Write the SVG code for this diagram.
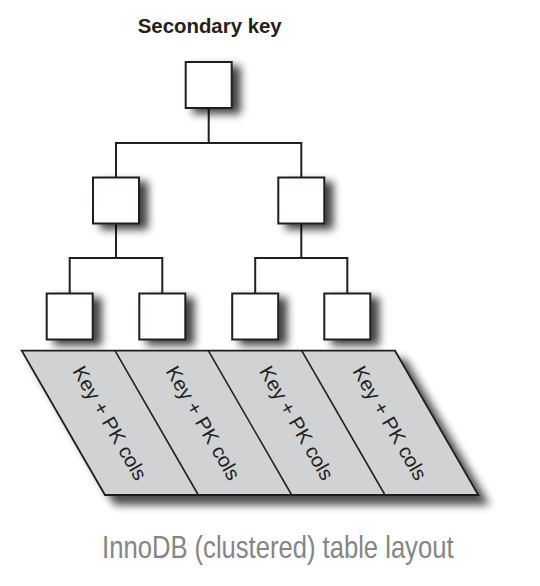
<svg xmlns="http://www.w3.org/2000/svg" width="540" height="586" viewBox="0 0 540 586">
  <defs>
    <filter id="shadow" x="-30%" y="-30%" width="180%" height="180%">
      <feGaussianBlur in="SourceAlpha" stdDeviation="4"/>
      <feOffset dx="8" dy="5" result="b"/>
      <feComponentTransfer><feFuncA type="linear" slope="0.75"/></feComponentTransfer>
      <feMerge><feMergeNode/><feMergeNode in="SourceGraphic"/></feMerge>
    </filter>
    <filter id="shadow2" x="-10%" y="-10%" width="130%" height="140%">
      <feGaussianBlur in="SourceAlpha" stdDeviation="4.5"/>
      <feOffset dx="10" dy="9" result="b"/>
      <feComponentTransfer><feFuncA type="linear" slope="0.7"/></feComponentTransfer>
      <feMerge><feMergeNode/><feMergeNode in="SourceGraphic"/></feMerge>
    </filter>
  </defs>
  <style>
    .box { fill: #ffffff; stroke: #231f20; stroke-width: 2; filter: url(#shadow); }
    .conn { fill: none; stroke: #231f20; stroke-width: 2; }
    .cell { fill: #d1d2d4; stroke: #231f20; stroke-width: 1.8; stroke-linejoin: miter; }
    .div { stroke: #231f20; stroke-width: 1.6; }
    .title { font-family: "Liberation Sans", Arial, sans-serif; font-weight: bold; font-size: 21px; fill: #231f20; }
    .lbl { font-family: "Liberation Sans", Arial, sans-serif; font-size: 20px; fill: #231f20; }
    .cap { font-family: "Liberation Sans", Arial, sans-serif; font-size: 32px; fill: #858585; }
  </style>

  <text class="title" x="209.7" y="32.7" text-anchor="middle" textLength="144" lengthAdjust="spacingAndGlyphs">Secondary key</text>

  <g id="connectors">
    <path class="conn" d="M208.7 108 V143 M116 143 H301.3 M116 142 V177.5 M301.3 142 V177.5"/>
    <path class="conn" d="M116 223.5 V258 M69.7 258 H162.3 M69.7 257 V293.5 M162.3 257 V293.5"/>
    <path class="conn" d="M301.3 223.5 V258 M255.2 258 H347.3 M255.2 257 V293.5 M347.3 257 V293.5"/>
  </g>

  <g id="root"><rect class="box" x="185.7" y="62" width="46" height="46"/></g>
  <g id="inner-left"><rect class="box" x="93" y="177.5" width="46" height="46"/></g>
  <g id="inner-right"><rect class="box" x="278.3" y="177.5" width="46" height="46"/></g>
  <g id="leaf-1"><rect class="box" x="46.7" y="293.5" width="46" height="46"/></g>
  <g id="leaf-2"><rect class="box" x="139.3" y="293.5" width="46" height="46"/></g>
  <g id="leaf-3"><rect class="box" x="232.2" y="293.5" width="46" height="46"/></g>
  <g id="leaf-4"><rect class="box" x="324.3" y="293.5" width="46" height="46"/></g>

  <g id="table">
    <polygon class="cell" style="filter:url(#shadow2)" points="21.7,350.7 395,350.7 478.3,495 105,495"/>
    <line class="div" x1="115" y1="350.7" x2="198.3" y2="495"/>
    <line class="div" x1="208.3" y1="350.7" x2="291.7" y2="495"/>
    <line class="div" x1="301.7" y1="350.7" x2="385" y2="495"/>
  </g>

  <g id="row-1"><text class="lbl" transform="translate(110,423) rotate(60)" x="0" y="7" text-anchor="middle" textLength="128" lengthAdjust="spacingAndGlyphs">Key + PK cols</text></g>
  <g id="row-2"><text class="lbl" transform="translate(203.3,423) rotate(60)" x="0" y="7" text-anchor="middle" textLength="128" lengthAdjust="spacingAndGlyphs">Key + PK cols</text></g>
  <g id="row-3"><text class="lbl" transform="translate(296.7,423) rotate(60)" x="0" y="7" text-anchor="middle" textLength="128" lengthAdjust="spacingAndGlyphs">Key + PK cols</text></g>
  <g id="row-4"><text class="lbl" transform="translate(390,423) rotate(60)" x="0" y="7" text-anchor="middle" textLength="128" lengthAdjust="spacingAndGlyphs">Key + PK cols</text></g>

  <text class="cap" transform="translate(277.8,558) scale(0.8,1)" x="0" y="0" text-anchor="middle">InnoDB (clustered) table layout</text>
</svg>
